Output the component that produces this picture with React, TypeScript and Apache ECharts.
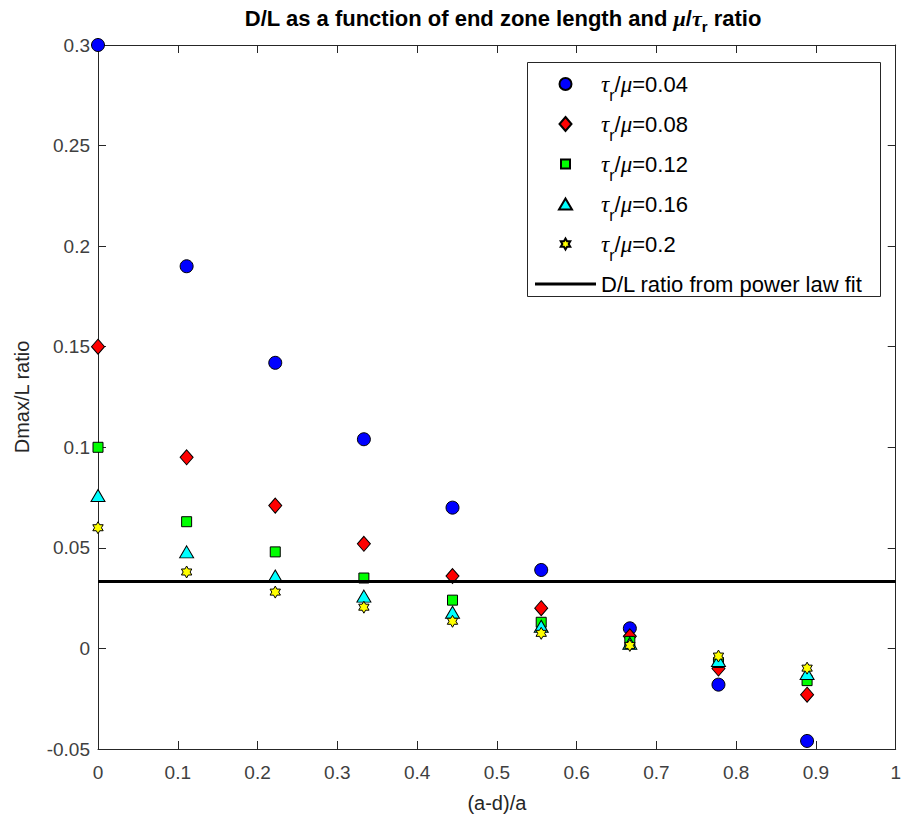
import React, { useEffect, useRef } from 'react';
import * as echarts from 'echarts';

// ---- data ----
const endZoneRatio = [0, 0.1111, 0.2222, 0.3333, 0.4444, 0.5556, 0.6667, 0.7778, 0.8889];
const tauLabels = ['0.04', '0.08', '0.12', '0.16', '0.2'];
const dlTau004 = [0.300, 0.190, 0.142, 0.104, 0.070, 0.039, 0.010, -0.018, -0.046];
const dlTau008 = [0.150, 0.095, 0.071, 0.052, 0.036, 0.020, 0.006, -0.010, -0.023];
const dlTau012 = [0.100, 0.063, 0.048, 0.035, 0.024, 0.013, 0.0035, -0.007, -0.016];
const dlTau016 = [0.076, 0.048, 0.036, 0.026, 0.018, 0.011, 0.0025, -0.006, -0.0125];
const dlTau020 = [0.060, 0.038, 0.028, 0.0205, 0.0135, 0.0075, 0.0015, -0.0038, -0.0098];
const fitX = [0, 1];
const fitDL = 0.0333;
const fitName = 'D/L ratio from power law fit';

const SANS = '"Liberation Sans", Arial, Helvetica, sans-serif';
const SERIF = '"Liberation Serif", "DejaVu Serif", serif';

const hexagramPath =
  'path://M50 0L35.57 25L6.7 25L21.13 50L6.7 75L35.57 75L50 100L64.43 75L93.3 75L78.87 50L93.3 25L64.43 25Z';

// legend icons: padded to the full 61x14 legend icon box so nothing is stretched
const legendIcons = [
  'path://M0 0M24.5 7A6 6 0 1 1 36.5 7A6 6 0 1 1 24.5 7ZM61 14',
  'path://M0 0M30.5 0L36.5 7L30.5 14L24.5 7ZM61 14',
  'path://M0 0M26 2.5H35V11.5H26ZM61 14',
  'path://M0 0M30.5 1.5L37 12.5H24ZM61 14',
  'path://M0 0M30.5 1.5L28.91 4.25L25.74 4.25L27.33 7L25.74 9.75L28.91 9.75L30.5 12.5L32.09 9.75L35.26 9.75L33.68 7L35.26 4.25L32.09 4.25ZM61 14',
];
const fitLegendIcon = 'path://M0 0M0 5.5H61V8.5H0ZM61 14';

const seriesDefs = [
  { values: dlTau004, color: '#0000ff', symbol: 'circle', size: 13 as any },
  { values: dlTau008, color: '#ff0000', symbol: 'diamond', size: [13, 15] as any },
  { values: dlTau012, color: '#00ff00', symbol: 'rect', size: 10 as any },
  { values: dlTau016, color: '#00ffff', symbol: 'triangle', size: [14, 12] as any },
  { values: dlTau020, color: '#ffff00', symbol: hexagramPath, size: 12 as any },
];

const fmt = (v: number) => String(parseFloat(v.toFixed(3)));

export default function App() {
  const ref = useRef<HTMLDivElement>(null);
  useEffect(() => {
    document.body.style.margin = '0';
    const chart = echarts.init(ref.current!, null, { renderer: 'svg' });
    const names = tauLabels.map((t) => `τr/μ=${t}`);

    const axisCommon = {
      type: 'value' as const,
      axisLine: { show: true, onZero: false, lineStyle: { color: '#262626', width: 1 } },
      axisTick: { show: true, inside: true, length: 8, lineStyle: { color: '#262626' } },
      splitLine: { show: false },
    };

    const option: any = {
      animation: false,
      backgroundColor: '#ffffff',
      title: {
        left: 498,
        top: 0,
        textAlign: 'center',
        text: '{b|D/L as a function of end zone length and }{it|μ}{b|/}{it|τ}{sub|r}{b| ratio}',
        textStyle: {
          rich: {
            b: { fontFamily: SANS, fontWeight: 'bold', fontSize: 22, color: '#000', lineHeight: 27 },
            it: { fontFamily: SERIF, fontStyle: 'italic', fontWeight: 'bold', fontSize: 22, color: '#000', lineHeight: 27 },
            sub: { fontFamily: SANS, fontWeight: 'bold', fontSize: 15, color: '#000', lineHeight: 27, height: 12, verticalAlign: 'bottom' },
          },
        },
      },
      grid: { left: 98, right: 6, top: 45, bottom: 72, containLabel: false },
      xAxis: [
        {
          ...axisCommon,
          position: 'bottom',
          min: 0,
          max: 1,
          interval: 0.1,
          axisLabel: { fontFamily: SANS, fontSize: 19, color: '#404040', margin: 14, formatter: fmt },
          name: '(a-d)/a',
          nameLocation: 'middle',
          nameGap: 44,
          nameTextStyle: { fontFamily: SANS, fontSize: 20, color: '#262626' },
        },
        {
          ...axisCommon,
          position: 'top',
          min: 0,
          max: 1,
          interval: 0.1,
          axisLabel: { show: false },
        },
      ],
      yAxis: [
        {
          ...axisCommon,
          position: 'left',
          min: -0.05,
          max: 0.3,
          interval: 0.05,
          axisLabel: { fontFamily: SANS, fontSize: 19, color: '#404040', margin: 8, formatter: fmt },
          name: 'Dmax/L ratio',
          nameLocation: 'middle',
          nameGap: 66,
          nameRotate: 90,
          nameTextStyle: { fontFamily: SANS, fontSize: 20, color: '#262626' },
        },
        {
          ...axisCommon,
          position: 'right',
          min: -0.05,
          max: 0.3,
          interval: 0.05,
          axisLabel: { show: false },
        },
      ],
      legend: {
        orient: 'vertical',
        left: 534,
        top: 71,
        padding: 0,
        itemWidth: 61,
        itemHeight: 14,
        itemGap: 8,
        selectedMode: false,
        data: [
          ...names.map((n, i) => ({ name: n, icon: legendIcons[i] })),
          { name: fitName, icon: fitLegendIcon },
        ],
        formatter: (name: string) => {
          if (name.startsWith('τ')) {
            const v = name.split('=')[1];
            return `{it|τ}{sub|r}{n|/}{it|μ}{n|=${v}}`;
          }
          return `{n|${name}}`;
        },
        textStyle: {
          fontFamily: SANS,
          fontSize: 22,
          color: '#000',
          lineHeight: 26,
          rich: {
            n: { fontFamily: SANS, fontSize: 22, color: '#000', lineHeight: 26 },
            it: { fontFamily: SERIF, fontStyle: 'italic', fontSize: 23, color: '#000', lineHeight: 26 },
            sub: { fontFamily: SANS, fontSize: 16, color: '#000', lineHeight: 26, height: 4, verticalAlign: 'bottom' },
          },
        },
      },
      graphic: [
        {
          type: 'rect',
          z: 3,
          shape: { x: 527.5, y: 62.5, width: 353, height: 234 },
          style: { fill: '#ffffff', stroke: '#262626', lineWidth: 1 },
        },
      ],
      series: [
        ...seriesDefs.map((s, i) => ({
          type: 'scatter',
          name: names[i],
          xAxisIndex: 0,
          yAxisIndex: 0,
          symbol: s.symbol,
          symbolSize: s.size,
          symbolKeepAspect: true,
          itemStyle: { color: s.color, borderColor: '#000', borderWidth: 1, opacity: 1 },
          data: endZoneRatio.map((x, j) => [x, s.values[j]]),
          z: 2 + i * 0.01,
        })),
        {
          type: 'line',
          name: fitName,
          xAxisIndex: 0,
          yAxisIndex: 0,
          symbol: 'none',
          lineStyle: { color: '#000', width: 3 },
          itemStyle: { color: '#000', borderWidth: 0 },
          data: fitX.map((x) => [x, fitDL]),
          z: 5,
          silent: true,
        },
      ],
    };
    chart.setOption(option);
    return () => chart.dispose();
  }, []);
  return (
    <div
      ref={ref}
      style={{ position: 'absolute', left: 0, top: 0, width: 904, height: 821, background: '#fff' }}
    />
  );
}
